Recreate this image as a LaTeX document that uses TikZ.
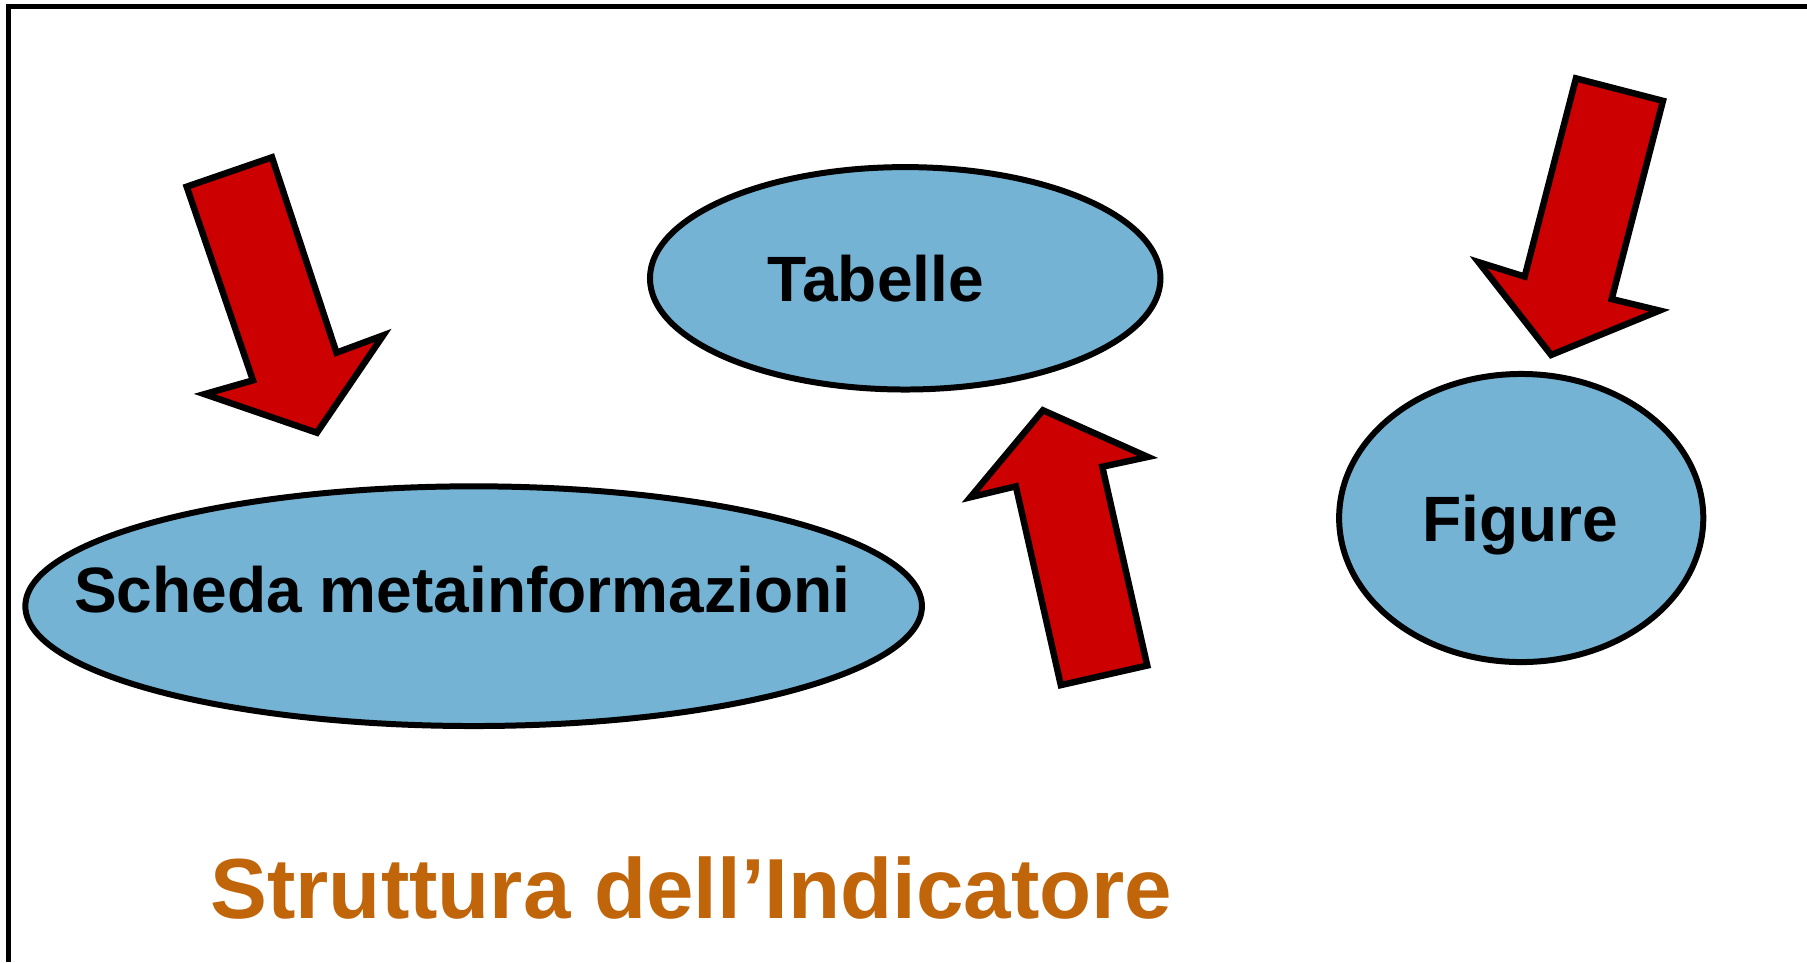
\documentclass[tikz,border=0pt]{standalone}
\usepackage{fontspec}
\setmainfont{Liberation Sans}
\usetikzlibrary{shapes.geometric}
\definecolor{ellblue}{RGB}{116,179,211}
\definecolor{arrred}{RGB}{204,0,0}
\definecolor{titleor}{RGB}{192,101,10}
\begin{document}
\begin{tikzpicture}[x=0.5pt,y=-0.5pt,
  ellbox/.style={ellipse, draw=black, line width=2.6pt, fill=ellblue, inner sep=0pt},
  bigarrow/.style={draw=black, fill=arrred, line width=2.8pt, line join=miter},
  lbl/.style={anchor=base, font=\bfseries\fontsize{27.8}{34}\selectfont, inner sep=0pt},
  ttl/.style={anchor=base, font=\bfseries\fontsize{37}{44}\selectfont, text=titleor, inner sep=0pt}]
\useasboundingbox (0,0) rectangle (1568,834.8);
\fill[white] (0,0) rectangle (1568,834.8);
\draw[line width=2.2pt] (7.5,834.8) -- (7.5,5.5) -- (1568,5.5);
% ellipses
\node[ellbox, minimum width=221.5pt, minimum height=96.5pt] (tab) at (785.5,241.5) {};
\node[ellbox, minimum width=389pt, minimum height=104pt] (sch) at (411,526) {};
\node[ellbox, minimum width=158pt, minimum height=125pt] (fig) at (1320,449.5) {};
% labels
\node[lbl] (tabl) at (760,262) {Tabelle};
\node[lbl] (schl) at (401,531.5) {Scheda metainformazioni};
\node[lbl] (figl) at (1319,470) {Figure};
\node[ttl] (title) at (600,796.6) {Struttura dell’Indicatore};
% arrows
\draw[bigarrow] (162,162) -- (236,136.5) -- (292,306) -- (332.5,291) -- (275,375.5) -- (177.5,342) -- (219.5,330) -- cycle;
\draw[bigarrow] (1367.5,68) -- (1443,87.5) -- (1398.5,259.5) -- (1440,269.5) -- (1346,308) -- (1283,227.5) -- (1323,240) -- cycle;
\draw[bigarrow] (905,356) -- (996,396.5) -- (956.5,405) -- (995.5,577.5) -- (920.5,594.5) -- (881.5,422) -- (842,431.5) -- cycle;
\end{tikzpicture}
\end{document}
